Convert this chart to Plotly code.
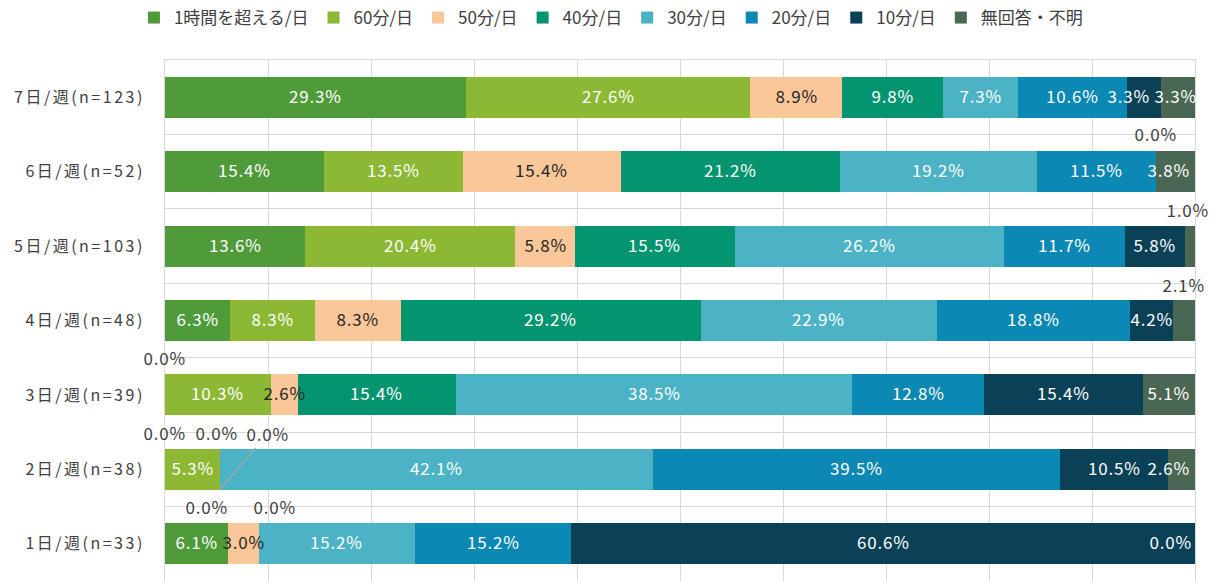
import plotly.graph_objects as go

categories = ["7日/週(n=123)", "6日/週(n=52)", "5日/週(n=103)", "4日/週(n=48)",
              "3日/週(n=39)", "2日/週(n=38)", "1日/週(n=33)"]
series_names = ["1時間を超える/日", "60分/日", "50分/日", "40分/日",
                "30分/日", "20分/日", "10分/日", "無回答・不明"]

v_over60 = [29.3, 15.4, 13.6, 6.3, 0.0, 0.0, 6.1]
v_60 = [27.6, 13.5, 20.4, 8.3, 10.3, 5.3, 0.0]
v_50 = [8.9, 15.4, 5.8, 8.3, 2.6, 0.0, 3.0]
v_40 = [9.8, 21.2, 15.5, 29.2, 15.4, 0.0, 0.0]
v_30 = [7.3, 19.2, 26.2, 22.9, 38.5, 42.1, 15.2]
v_20 = [10.6, 11.5, 11.7, 18.8, 12.8, 39.5, 15.2]
v_10 = [3.3, 0.0, 5.8, 4.2, 15.4, 10.5, 60.6]
v_na = [3.3, 3.8, 1.0, 2.1, 5.1, 2.6, 0.0]

series_values = [v_over60, v_60, v_50, v_40, v_30, v_20, v_10, v_na]
colors = ["#4F9B39", "#8CB833", "#FAC898", "#04946F",
          "#4CB3C6", "#0B88B4", "#0A4157", "#4A6753"]
text_colors = ["#FFFFFF", "#FFFFFF", "#262626", "#FFFFFF",
               "#FFFFFF", "#FFFFFF", "#FFFFFF", "#FFFFFF"]

# label placement tweaks: (category index, series index): (mode, xshift, yshift)
label_tweaks = {
    (0, 6): ("center", -16, 0),
    (0, 7): ("center", -3, 0),
    (1, 6): ("above", 0, -1),
    (1, 7): ("center", -7, 0),
    (2, 7): ("above", -2, -3),
    (3, 7): ("above", -1, -3),
    (4, 0): ("above", -1, -2),
    (5, 0): ("above", -1, -2),
    (5, 2): ("above", -3, -2),
    (5, 3): ("leader", 48, -56),
    (5, 7): ("center", -13, 0),
    (6, 1): ("above", -21, -2),
    (6, 3): ("above", 16, -2),
    (6, 7): ("end", -3, 0),
}

FONT = "Noto Sans CJK JP"
LABEL_SIZE = 17
BASE_YSHIFT = 2  # compensates the tall CJK line box so digits sit centred
n = len(categories)
ypos = [n - 1 - i for i in range(n)]  # top category at top
BAR_W = 0.55

fig = go.Figure()
for name, vals, col in zip(series_names, series_values, colors):
    fig.add_trace(go.Bar(
        y=ypos, x=vals, name=name, orientation="h",
        marker=dict(color=col, line=dict(width=0)),
        width=BAR_W, hoverinfo="x+name",
    ))

annotations = []
for ci in range(n):
    total = sum(s[ci] for s in series_values)
    cum = 0.0
    for si, vals in enumerate(series_values):
        v = vals[ci]
        start = cum / total * 100
        cum += v
        end = cum / total * 100
        center = (start + end) / 2
        txt = f"{v:.1f}%"
        mode, xs, ys = label_tweaks.get((ci, si), ("center", 0, 0))
        y = ypos[ci]
        ys = ys + BASE_YSHIFT
        if mode == "center":
            annotations.append(dict(x=center, y=y, xref="x", yref="y", text=txt,
                                    showarrow=False, xshift=xs, yshift=ys,
                                    font=dict(family=FONT, size=LABEL_SIZE, color=text_colors[si])))
        elif mode == "above":
            annotations.append(dict(x=center, y=y + 0.5, xref="x", yref="y", text=txt,
                                    showarrow=False, xshift=xs, yshift=ys,
                                    font=dict(family=FONT, size=LABEL_SIZE, color="#404040")))
        elif mode == "end":
            annotations.append(dict(x=100, y=y, xref="x", yref="y", text=txt,
                                    showarrow=False, xanchor="right", xshift=xs, yshift=ys,
                                    font=dict(family=FONT, size=LABEL_SIZE, color="#FFFFFF")))
        elif mode == "leader":
            annotations.append(dict(x=end, y=y - BAR_W / 2, xref="x", yref="y", text=txt,
                                    showarrow=True, arrowhead=0, arrowwidth=1.2,
                                    arrowcolor="#A6A6A6", ax=xs, ay=ys - BASE_YSHIFT,
                                    font=dict(family=FONT, size=LABEL_SIZE, color="#404040")))

fig.update_layout(
    width=1217, height=581,
    margin=dict(l=165, r=22, t=60, b=0, autoexpand=False),
    paper_bgcolor="white", plot_bgcolor="white",
    barmode="stack", barnorm="percent",
    font=dict(family=FONT, size=15, color="#404040"),
    legend=dict(orientation="h", xref="container", yref="container",
                x=0.502, xanchor="center", y=1 - 18 / 581, yanchor="middle",
                font=dict(family=FONT, size=17, color="#404040"),
                traceorder="normal", itemwidth=30),
    annotations=annotations,
    showlegend=True,
)
fig.update_xaxes(range=[0, 100], dtick=10, showgrid=True, gridcolor="#D9D9D9",
                 zeroline=False, showticklabels=False, showline=True, mirror=True,
                 linecolor="#D9D9D9", fixedrange=True)
fig.update_yaxes(range=[-0.5, n - 0.5], tickvals=ypos, ticktext=categories,
                 showgrid=False, zeroline=False, showline=True, mirror=True,
                 linecolor="#D9D9D9", ticklabelstandoff=16, automargin=False,
                 tickfont=dict(family=FONT, size=16, color="#404040"),
                 minor=dict(tickvals=[i - 0.5 for i in range(n + 1)], showgrid=True,
                            gridcolor="#D9D9D9", ticks=""),
                 fixedrange=True)

post = """
document.body.style.margin = '0';
document.body.style.overflow = 'hidden';
document.querySelectorAll('.ytick text').forEach(function(t){
  t.style.letterSpacing = '2.5px';
});
document.querySelectorAll('.annotation-text').forEach(function(t){
  t.style.letterSpacing = '0.8px';
});
"""
fig.write_html("out.html", post_script=post, config={"displayModeBar": False})
